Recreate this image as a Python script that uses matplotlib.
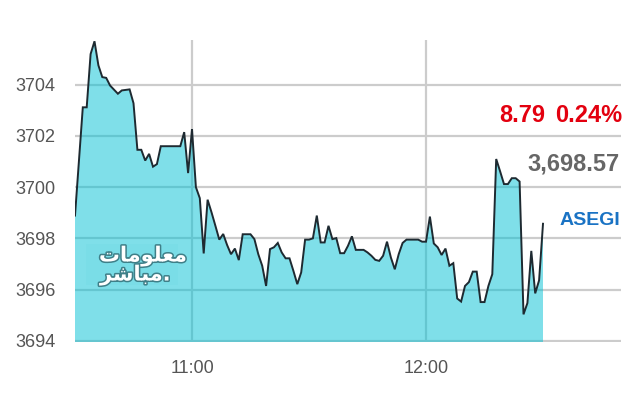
import matplotlib
matplotlib.use('Agg')
import matplotlib.pyplot as plt
import matplotlib.patheffects as pe
from matplotlib.patches import Rectangle

# minutes after 10:30 and index level (ASEGI intraday)
minutes = [0, 2, 3, 4, 5, 6, 7, 8, 9, 11,
           12, 14, 15, 16, 17, 18, 19, 20, 21, 22,
           27, 28, 29, 30, 31, 32, 33, 34, 35, 36,
           37, 38, 39, 40, 41, 42, 43, 45, 46, 47,
           48, 49, 50, 51, 52, 53, 54, 55, 56, 57,
           58, 59, 60, 61, 62, 63, 64, 65, 66, 67,
           68, 69, 70, 71, 72, 74, 75, 76, 77, 78,
           79, 80, 81, 82, 83, 84, 85, 88, 89, 90,
           91, 92, 93, 94, 95, 96, 97, 98, 99, 100,
           101, 102, 103, 104, 105, 106, 107, 108, 109, 110,
           111, 112, 113, 114, 115, 116, 117, 118, 119, 120]
values = [3698.89, 3703.12, 3703.12, 3705.20, 3705.70, 3704.76, 3704.30, 3704.27, 3703.97, 3703.65,
          3703.78, 3703.82, 3703.28, 3701.46, 3701.46, 3701.04, 3701.30, 3700.80, 3700.90, 3701.60,
          3701.60, 3702.15, 3700.55, 3702.27, 3700.00, 3699.57, 3697.41, 3699.51, 3699.02, 3698.49,
          3697.95, 3698.17, 3697.74, 3697.38, 3697.60, 3697.15, 3698.16, 3698.16, 3697.97, 3697.38,
          3696.93, 3696.14, 3697.58, 3697.65, 3697.82, 3697.45, 3697.22, 3697.22, 3696.73, 3696.21,
          3696.67, 3697.95, 3697.95, 3698.00, 3698.89, 3697.84, 3697.84, 3698.49, 3697.97, 3698.01,
          3697.42, 3697.42, 3697.71, 3698.08, 3697.55, 3697.55, 3697.45, 3697.32, 3697.16, 3697.12,
          3697.32, 3697.87, 3697.25, 3696.79, 3697.38, 3697.82, 3697.95, 3697.95, 3697.87, 3697.87,
          3698.85, 3697.80, 3697.65, 3697.35, 3697.60, 3696.93, 3697.03, 3695.65, 3695.53, 3696.14,
          3696.29, 3696.70, 3696.70, 3695.51, 3695.51, 3696.14, 3696.60, 3701.10, 3700.62, 3700.12,
          3700.12, 3700.35, 3700.35, 3700.22, 3695.03, 3695.47, 3697.51, 3695.85, 3696.36, 3698.57]

xtick_pos = [30, 90]
xtick_labels = ['11:00', '12:00']
ytick_pos = [3694, 3696, 3698, 3700, 3702, 3704]

change = '8.79'
change_pct = '0.24%'
last_value = '3,698.57'
index_name = 'ASEGI'

font = ['Liberation Sans', 'DejaVu Sans']

W, H = 640, 400
fig = plt.figure(figsize=(W / 100, H / 100), dpi=100)
fig.patch.set_facecolor('white')

# axes placed in pixel terms
ax = fig.add_axes([75 / W, (H - 342) / H, (621 - 75) / W, (342 - 40) / H])

ax.fill_between(minutes, values, 3690, color='#00c1d5', alpha=0.5, lw=0)
ax.plot(minutes, values, color='#1e2a31', lw=1.4, solid_joinstyle='miter')

ax.set_xlim(0, 140)
ax.set_ylim(3693.95, 3705.75)

ax.set_xticks(xtick_pos, xtick_labels)
ax.set_yticks(ytick_pos, [str(v) for v in ytick_pos])
ax.tick_params(length=0, colors='#555555', labelsize=13)
ax.tick_params(axis='y', pad=14)
ax.tick_params(axis='x', pad=13)
for lab in ax.get_xticklabels() + ax.get_yticklabels():
    lab.set_family(font)

ax.set_axisbelow(True)
ax.grid(True, color='#cccccc', lw=1.6)
for s in ax.spines.values():
    s.set_visible(False)

# watermark logo
fig.patches.append(Rectangle((86 / W, 1 - 285 / H), 92 / W, 41 / H,
                             transform=fig.transFigure, facecolor='#5ccfdc',
                             alpha=0.12, lw=0, zorder=3))
logo_fx = [pe.withStroke(linewidth=2.2, foreground='#3f7f88')]
fig.text(99 / W, 1 - 256 / H, '\uFE95\uFE8E\uFEE3\uFEEE\uFEE0\uFECC\uFEE3',
         family='DejaVu Sans', weight='bold', fontsize=15, color='white',
         va='center', ha='left', path_effects=logo_fx, zorder=4)
fig.text(100 / W, 1 - 275 / H, '\uFEAE\uFEB7\uFE8E\uFE92\uFEE3.',
         family='DejaVu Sans', weight='bold', fontsize=15, color='white',
         va='center', ha='left', path_effects=logo_fx, zorder=4)

# right hand info
fig.text(545 / W, 1 - 115 / H, change, family=font, weight='bold',
         fontsize=17, color='#e3000f', ha='right', va='center')
fig.text(622 / W, 1 - 115 / H, change_pct, family=font, weight='bold',
         fontsize=17, color='#e3000f', ha='right', va='center')
fig.text(620 / W, 1 - 164 / H, last_value, family=font, weight='bold',
         fontsize=17, color='#666666', ha='right', va='center')
fig.text(620 / W, 1 - 220 / H, index_name, family=font, weight='bold',
         fontsize=14, color='#1a73c4', ha='right', va='center')

fig.savefig('out.png', dpi=100)
